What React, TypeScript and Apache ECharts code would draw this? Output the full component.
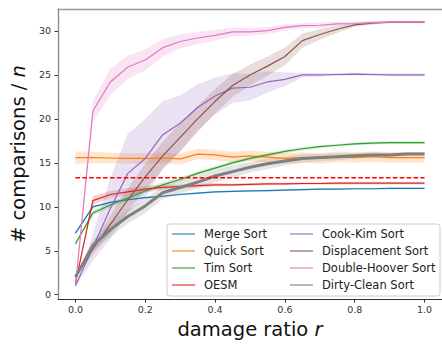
import React, { useEffect, useRef } from "react";
import * as echarts from "echarts";

const ratios = [0, 0.05, 0.1, 0.15, 0.2, 0.25, 0.3, 0.35, 0.4, 0.45, 0.5, 0.55, 0.6, 0.65, 0.7, 0.75, 0.8, 0.85, 0.9, 0.95, 1.0];

const mergeMean = [7.0, 10.0, 10.5, 10.8, 11.05, 11.2, 11.4, 11.55, 11.7, 11.75, 11.8, 11.85, 11.9, 11.95, 12.0, 12.0, 12.05, 12.05, 12.1, 12.1, 12.1];
const mergeSpread = [0.15, 0.15, 0.1, 0.1, 0.1, 0.1, 0.1, 0.1, 0.1, 0.1, 0.1, 0.1, 0.1, 0.1, 0.1, 0.1, 0.1, 0.1, 0.1, 0.1, 0.1];

const quickMean = [15.6, 15.6, 15.55, 15.5, 15.5, 15.55, 15.45, 16.0, 15.9, 15.65, 15.8, 15.65, 15.5, 15.6, 15.5, 15.7, 15.6, 15.7, 15.6, 15.6, 15.6];
const quickSpread = [0.7, 0.65, 0.6, 0.6, 0.6, 0.6, 0.6, 0.6, 0.6, 0.6, 0.6, 0.6, 0.6, 0.6, 0.6, 0.6, 0.6, 0.6, 0.6, 0.6, 0.6];

const timMean = [5.8, 9.3, 10.2, 11.0, 11.8, 12.5, 13.1, 13.8, 14.4, 15.0, 15.5, 15.9, 16.3, 16.6, 16.85, 17.0, 17.15, 17.25, 17.3, 17.3, 17.3];
const timSpread = [0.2, 0.3, 0.3, 0.3, 0.25, 0.25, 0.25, 0.25, 0.2, 0.2, 0.2, 0.2, 0.2, 0.2, 0.15, 0.15, 0.15, 0.15, 0.15, 0.15, 0.15];

const oesmMean = [1.3, 10.7, 11.4, 11.7, 12.0, 12.2, 12.3, 12.4, 12.5, 12.5, 12.55, 12.6, 12.6, 12.65, 12.65, 12.7, 12.7, 12.7, 12.7, 12.7, 12.7];
const oesmSpread = [0.1, 0.5, 0.4, 0.4, 0.35, 0.3, 0.25, 0.2, 0.2, 0.15, 0.15, 0.15, 0.15, 0.15, 0.15, 0.15, 0.15, 0.15, 0.15, 0.15, 0.15];

const cookMean = [1.0, 5.4, 9.8, 13.8, 15.5, 18.2, 19.5, 21.3, 22.6, 23.5, 23.6, 24.2, 24.5, 25.0, 25.0, 25.05, 25.1, 25.05, 25.0, 25.0, 25.0];
const cookSpread = [0.1, 1.5, 3.5, 4.5, 4.5, 3.8, 3.2, 2.6, 2.1, 1.7, 1.5, 1.2, 0.8, 0.25, 0.2, 0.15, 0.15, 0.15, 0.15, 0.15, 0.15];

const dispMean = [2.0, 5.2, 8.0, 10.8, 13.4, 15.8, 17.9, 20.0, 22.0, 23.8, 25.0, 26.0, 27.1, 28.9, 29.6, 30.2, 30.7, 30.9, 31.0, 31.0, 31.0];
const dispSpread = [0.1, 0.6, 1.0, 1.3, 1.5, 1.6, 1.6, 1.5, 1.4, 1.3, 1.2, 1.1, 1.0, 0.8, 0.6, 0.4, 0.2, 0.15, 0.1, 0.1, 0.1];

const hooverMean = [1.0, 20.9, 24.2, 25.9, 26.7, 28.1, 28.8, 29.2, 29.5, 29.9, 29.9, 30.05, 30.4, 30.6, 30.65, 30.8, 30.85, 30.95, 31.0, 31.0, 31.0];
const hooverSpread = [0.1, 1.2, 1.5, 1.3, 1.2, 1.0, 0.8, 0.7, 0.6, 0.5, 0.45, 0.4, 0.35, 0.3, 0.3, 0.25, 0.2, 0.2, 0.15, 0.15, 0.15];

const dirtyMean = [2.0, 5.6, 7.4, 8.9, 10.1, 11.6, 12.2, 12.8, 13.5, 14.0, 14.5, 14.9, 15.2, 15.5, 15.6, 15.7, 15.8, 15.9, 15.9, 16.0, 16.0];
const dirtySpread = [0.1, 0.6, 0.8, 0.8, 0.8, 0.7, 0.7, 0.7, 0.7, 0.7, 0.6, 0.6, 0.5, 0.5, 0.4, 0.4, 0.3, 0.3, 0.25, 0.2, 0.2];

const baselineValue = 13.3;
const baselineRange = [0, 1.0];

const xTicks = [0, 0.2, 0.4, 0.6, 0.8, 1.0];
const yTicks = [0, 5, 10, 15, 20, 25, 30];

const seriesNames = ["Merge Sort", "Quick Sort", "Tim Sort", "OESM", "Cook-Kim Sort", "Displacement Sort", "Double-Hoover Sort", "Dirty-Clean Sort"];
const seriesColors = ["#1f77b4", "#ff7f0e", "#2ca02c", "#d62728", "#9467bd", "#8c564b", "#e377c2", "#7f7f7f"];
const seriesMeans = [mergeMean, quickMean, timMean, oesmMean, cookMean, dispMean, hooverMean, dirtyMean];
const seriesSpreads = [mergeSpread, quickSpread, timSpread, oesmSpread, cookSpread, dispSpread, hooverSpread, dirtySpread];

const FONT = "DejaVu Sans";

function hexToRgba(hex: string, a: number) {
  const n = parseInt(hex.slice(1), 16);
  return `rgba(${(n >> 16) & 255},${(n >> 8) & 255},${n & 255},${a})`;
}

function bandSeries(mean: number[], spread: number[], color: string, z: number) {
  return {
    type: "custom",
    silent: true,
    clip: true,
    z,
    data: ratios.map((r, i) => [r, mean[i] - spread[i], mean[i] + spread[i]]),
    encode: { x: 0, y: [1, 2] },
    renderItem: (params: any, api: any) => {
      if (params.dataIndex !== 0) return null;
      const upper = ratios.map((r, i) => api.coord([r, mean[i] + spread[i]]));
      const lower = ratios.map((r, i) => api.coord([r, mean[i] - spread[i]])).reverse();
      return {
        type: "polygon",
        shape: { points: upper.concat(lower) },
        style: { fill: hexToRgba(color, 0.2), stroke: "none" },
      };
    },
  };
}

export default function App() {
  const ref = useRef<HTMLDivElement>(null);
  useEffect(() => {
    if (!ref.current) return;
    const chart = echarts.init(ref.current, null, { renderer: "svg" });
    const series: any[] = [];
    seriesNames.forEach((name, k) => {
      series.push(bandSeries(seriesMeans[k], seriesSpreads[k], seriesColors[k], 1 + k * 0.01));
    });
    seriesNames.forEach((name, k) => {
      const isDirty = name === "Dirty-Clean Sort";
      series.push({
        type: "line",
        name,
        data: ratios.map((r, i) => [r, seriesMeans[k][i]]),
        symbol: "none",
        showSymbol: false,
        lineStyle: { color: seriesColors[k], width: isDirty ? 3 : 1.2 },
        itemStyle: { color: seriesColors[k] },
        z: 3,
      });
    });
    series.push({
      type: "line",
      name: "baseline",
      data: baselineRange.map((r) => [r, baselineValue]),
      symbol: "none",
      lineStyle: { color: "#ff0000", width: 1.5, type: [4.6, 2.3] },
      z: 4,
      silent: true,
    });

    const legendBase = {
      orient: "vertical",
      itemWidth: 23,
      itemHeight: 14,
      itemGap: 3,
      top: 227,
      padding: 0,
      z: 20,
      selectedMode: false,
      itemStyle: { opacity: 0, color: "transparent", borderWidth: 0 },
      lineStyle: { opacity: 0.55 },
      textStyle: { fontFamily: FONT, fontSize: 11.5, color: "#222", padding: [0, 0, 0, 4], lineHeight: 14 },
    };

    chart.setOption({
      animation: false,
      textStyle: { fontFamily: FONT },
      grid: { left: 51, top: 9, width: 395, height: 293, containLabel: false },
      legend: [
        { ...legendBase, left: 171, data: seriesNames.slice(0, 4) },
        { ...legendBase, left: 289, data: seriesNames.slice(4) },
      ],
      graphic: [
        {
          type: "rect",
          z: 10,
          shape: { x: 167, y: 224, width: 273, height: 72, r: 3 },
          style: { fill: "rgba(255,255,255,0.8)", stroke: "#cccccc", lineWidth: 1 },
        },
      ],
      xAxis: [
        {
          type: "value",
          min: -0.05,
          max: 1.05,
          position: "bottom",
          axisLine: { show: true, onZero: false, lineStyle: { color: "#333", width: 1 } },
          axisTick: { show: true, customValues: xTicks, length: 3.5, lineStyle: { color: "#333" } },
          axisLabel: {
            customValues: xTicks,
            formatter: (v: number) => v.toFixed(1),
            fontSize: 9.5,
            color: "#333",
            margin: 5,
            fontFamily: FONT,
          },
          splitLine: { show: false },
          name: "{a|damage ratio }{i|r}",
          nameLocation: "middle",
          nameGap: 19,
          nameTextStyle: {
            rich: {
              a: { fontSize: 19.5, fontFamily: FONT, color: "#111" },
              i: { fontSize: 19.5, fontFamily: FONT, fontStyle: "italic", color: "#111" },
            },
          },
        },
        {
          type: "value",
          min: -0.05,
          max: 1.05,
          position: "top",
          axisLine: { show: true, onZero: false, lineStyle: { color: "#999", width: 1.4 } },
          axisTick: { show: false },
          axisLabel: { show: false },
          splitLine: { show: false },
        },
      ],
      yAxis: {
        type: "value",
        min: -0.5,
        max: 32.5,
        axisLine: { show: true, onZero: false, lineStyle: { color: "#888", width: 1.3 } },
        axisTick: { show: true, customValues: yTicks, length: 3.5, lineStyle: { color: "#333" } },
        axisLabel: { customValues: yTicks, fontSize: 9.5, color: "#333", margin: 7, fontFamily: FONT },
        splitLine: { show: false },
        name: "{a|# comparisons / }{i|n}",
        nameLocation: "middle",
        nameGap: 20,
        nameTextStyle: {
          rich: {
            a: { fontSize: 19.5, fontFamily: FONT, color: "#111" },
            i: { fontSize: 19.5, fontFamily: FONT, fontStyle: "italic", color: "#111" },
          },
        },
      },
      series,
    });
    return () => chart.dispose();
  }, []);
  return <div ref={ref} style={{ width: 442, height: 344, position: "absolute", left: 0, top: 0 }} />;
}
